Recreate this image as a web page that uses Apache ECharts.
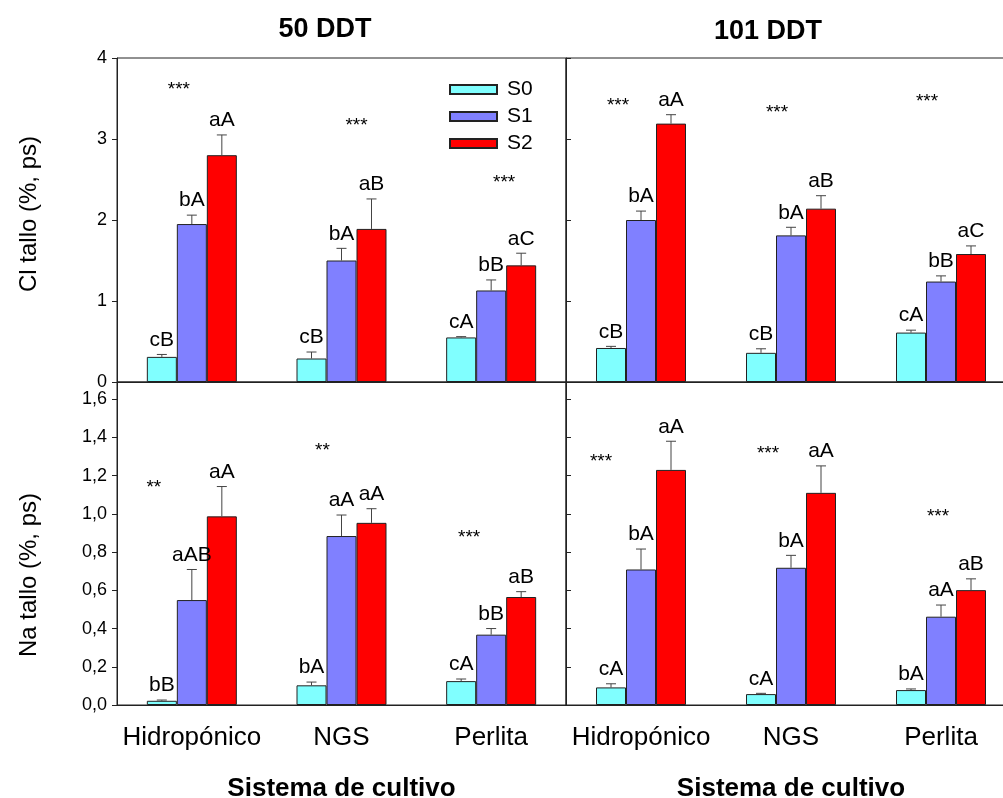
<!DOCTYPE html>
<html>
<head>
<meta charset="utf-8">
<script src="https://cdn.jsdelivr.net/npm/echarts/dist/echarts.min.js"></script>
<style>
html,body{margin:0;padding:0;background:#fff;}
#chart{width:1003px;height:798px;}
</style>
</head>
<body>
<div id="chart"></div>
<script>
// ---------- DATA ----------
const categories = ['Hidropónico', 'NGS', 'Perlita'];
const seriesNames = ['S0', 'S1', 'S2'];
const panelTitles = ['50 DDT', '101 DDT'];
const yTitleCl = 'Cl tallo (%, ps)';
const yTitleNa = 'Na tallo (%, ps)';
const xTitle = 'Sistema de cultivo';

// Cl, 50 DDT
const cl50_S0 = [0.31, 0.29, 0.55];
const cl50_S1 = [1.95, 1.50, 1.13];
const cl50_S2 = [2.80, 1.89, 1.44];
const cl50_S0_err = [0.03, 0.08, 0.01];
const cl50_S1_err = [0.11, 0.15, 0.13];
const cl50_S2_err = [0.25, 0.37, 0.15];
const cl50_S0_lbl = ['cB', 'cB', 'cA'];
const cl50_S1_lbl = ['bA', 'bA', 'bB'];
const cl50_S2_lbl = ['aA', 'aB', 'aC'];
const cl50_stars = ['***', '***', '***'];
const cl50_starY = [3.66, 3.22, 2.51];

// Cl, 101 DDT
const cl101_S0 = [0.42, 0.36, 0.61];
const cl101_S1 = [2.00, 1.81, 1.24];
const cl101_S2 = [3.19, 2.14, 1.58];
const cl101_S0_err = [0.02, 0.05, 0.03];
const cl101_S1_err = [0.11, 0.10, 0.07];
const cl101_S2_err = [0.11, 0.16, 0.10];
const cl101_S0_lbl = ['cB', 'cB', 'cA'];
const cl101_S1_lbl = ['bA', 'bA', 'bB'];
const cl101_S2_lbl = ['aA', 'aB', 'aC'];
const cl101_stars = ['***', '***', '***'];
const cl101_starY = [3.47, 3.38, 3.51];

// Na, 50 DDT
const na50_S0 = [0.022, 0.103, 0.125];
const na50_S1 = [0.549, 0.884, 0.368];
const na50_S2 = [0.987, 0.953, 0.565];
const na50_S0_err = [0.004, 0.017, 0.011];
const na50_S1_err = [0.160, 0.110, 0.032];
const na50_S2_err = [0.156, 0.074, 0.028];
const na50_S0_lbl = ['bB', 'bA', 'cA'];
const na50_S1_lbl = ['aAB', 'aA', 'bB'];
const na50_S2_lbl = ['aA', 'aA', 'aB'];
const na50_stars = ['**', '**', '***'];
const na50_starY = [1.16, 1.354, 0.90];

// Na, 101 DDT
const na101_S0 = [0.092, 0.057, 0.078];
const na101_S1 = [0.709, 0.718, 0.462];
const na101_S2 = [1.230, 1.110, 0.601];
const na101_S0_err = [0.019, 0.004, 0.006];
const na101_S1_err = [0.107, 0.065, 0.061];
const na101_S2_err = [0.150, 0.141, 0.059];
const na101_S0_lbl = ['cA', 'cA', 'bA'];
const na101_S1_lbl = ['bA', 'bA', 'aA'];
const na101_S2_lbl = ['aA', 'aA', 'aB'];
const na101_stars = ['***', '***', '***'];
const na101_starY = [1.297, 1.339, 1.009];

// ---------- STYLE / LAYOUT ----------
const FONT = '"Liberation Sans", Arial, Helvetica, sans-serif';
const COLORS = ['#80FFFF', '#8080FF', '#FF0000'];
const BAR_W = 30;
const LINE = '#222';
const ERR = '#444';
// star horizontal offsets (px) relative to group center, per panel
const starDx = [
  [-13, 15, 13],
  [-23, -14, -14],
  [-38, -19, -22],
  [-40, -23, -3]
];

const panels = [
  { means: [cl50_S0, cl50_S1, cl50_S2], errs: [cl50_S0_err, cl50_S1_err, cl50_S2_err], lbls: [cl50_S0_lbl, cl50_S1_lbl, cl50_S2_lbl], stars: cl50_stars, starY: cl50_starY },
  { means: [cl101_S0, cl101_S1, cl101_S2], errs: [cl101_S0_err, cl101_S1_err, cl101_S2_err], lbls: [cl101_S0_lbl, cl101_S1_lbl, cl101_S2_lbl], stars: cl101_stars, starY: cl101_starY },
  { means: [na50_S0, na50_S1, na50_S2], errs: [na50_S0_err, na50_S1_err, na50_S2_err], lbls: [na50_S0_lbl, na50_S1_lbl, na50_S2_lbl], stars: na50_stars, starY: na50_starY },
  { means: [na101_S0, na101_S1, na101_S2], errs: [na101_S0_err, na101_S1_err, na101_S2_err], lbls: [na101_S0_lbl, na101_S1_lbl, na101_S2_lbl], stars: na101_stars, starY: na101_starY }
];

const grids = [
  { left: 117, top: 58, width: 449, height: 324 },
  { left: 566, top: 58, width: 450, height: 324 },
  { left: 117, top: 382, width: 449, height: 323 },
  { left: 566, top: 382, width: 450, height: 323 }
].map(g => Object.assign(g, { show: true, borderColor: LINE, borderWidth: 1, backgroundColor: 'transparent', containLabel: false, outerBoundsMode: 'none' }));

const xAxes = grids.map((g, gi) => {
  const bottom = gi >= 2;
  return {
    type: 'category', gridIndex: gi, data: categories,
    axisTick: { show: false },
    axisLine: { show: true, lineStyle: { color: LINE, width: 1 } },
    axisLabel: { show: bottom, interval: 0, margin: 20, color: '#000', fontSize: 26, fontFamily: FONT },
    splitLine: { show: false },
    name: bottom ? xTitle : '',
    nameLocation: 'middle', nameGap: 71,
    nameTextStyle: { color: '#000', fontSize: 26, fontWeight: 'bold', fontFamily: FONT }
  };
});

const yAxes = grids.map((g, gi) => {
  const left = gi % 2 === 0;
  const isCl = gi < 2;
  return {
    type: 'value', gridIndex: gi, min: 0, max: isCl ? 4 : 1.69, interval: isCl ? 1 : 0.2,
    splitLine: { show: false },
    axisLine: { show: true, lineStyle: { color: LINE, width: 1 } },
    axisTick: { show: true, inside: !left, length: 5, lineStyle: { color: LINE } },
    axisLabel: {
      show: left, margin: 10, color: '#000', fontSize: 18, fontFamily: FONT,
      formatter: v => isCl ? String(v) : (v > 1.65 ? '' : v.toFixed(1).replace('.', ','))
    },
    name: ''
  };
});

const series = [];
panels.forEach((p, gi) => {
  for (let k = 0; k < 3; k++) {
    series.push({
      type: 'bar', name: seriesNames[k], xAxisIndex: gi, yAxisIndex: gi,
      data: p.means[k], barWidth: BAR_W, barGap: '0%',
      itemStyle: { color: COLORS[k], borderColor: LINE, borderWidth: 1 },
      emphasis: { disabled: true }, z: 2
    });
  }
  for (let k = 0; k < 3; k++) {
    const lbls = p.lbls[k];
    series.push({
      type: 'custom', xAxisIndex: gi, yAxisIndex: gi, z: 5, silent: true,
      data: p.means[k].map((m, i) => [i, m, m + p.errs[k][i]]),
      renderItem: (params, api) => {
        const i = api.value(0);
        const base = api.coord([i, api.value(1)]);
        const top = api.coord([i, api.value(2)]);
        const x = base[0] + (k - 1) * BAR_W;
        return {
          type: 'group', children: [
            { type: 'line', shape: { x1: x, y1: base[1], x2: x, y2: top[1] }, style: { stroke: ERR, lineWidth: 1 } },
            { type: 'line', shape: { x1: x - 5, y1: top[1], x2: x + 5, y2: top[1] }, style: { stroke: ERR, lineWidth: 1 } },
            { type: 'text', x: x, y: top[1] - 4, style: { text: lbls[params.dataIndex], fill: '#000', fontSize: 21, fontFamily: FONT, align: 'center', verticalAlign: 'bottom', textAlign: 'center', textVerticalAlign: 'bottom' } }
          ]
        };
      }
    });
  }
  series.push({
    type: 'custom', xAxisIndex: gi, yAxisIndex: gi, z: 5, silent: true,
    data: p.starY.map((y, i) => [i, y]),
    renderItem: (params, api) => {
      const c = api.coord([api.value(0), api.value(1)]);
      return { type: 'text', x: c[0] + starDx[gi][params.dataIndex], y: c[1] - 5,
        style: { text: p.stars[params.dataIndex], fill: '#000', fontSize: 19, fontFamily: FONT, align: 'center', verticalAlign: 'top', textAlign: 'center', textVerticalAlign: 'top' } };
    }
  });
});

const titleStyle = (t) => ({ text: t, fill: '#000', font: 'bold 27px ' + FONT, align: 'center', verticalAlign: 'middle', textAlign: 'center', textVerticalAlign: 'middle' });
const yTitleStyle = (t) => ({ text: t, fill: '#000', font: '24px ' + FONT, align: 'center', verticalAlign: 'middle', textAlign: 'center', textVerticalAlign: 'middle' });

const option = {
  animation: false,
  backgroundColor: '#fff',
  grid: grids,
  xAxis: xAxes,
  yAxis: yAxes,
  legend: {
    show: true, orient: 'vertical', left: 449, top: 79, padding: 0,
    data: seriesNames, icon: 'rect', itemWidth: 47, itemHeight: 9, itemGap: 6,
    textStyle: { color: '#000', fontSize: 21, fontFamily: FONT, lineHeight: 21, padding: [0, 0, 0, 5] },
    selectedMode: false
  },
  graphic: [
    { type: 'text', x: 325, y: 30, style: titleStyle(panelTitles[0]) },
    { type: 'text', x: 768, y: 32, style: titleStyle(panelTitles[1]) },
    { type: 'text', x: 29, y: 214, rotation: Math.PI / 2, style: yTitleStyle(yTitleCl) },
    { type: 'text', x: 29, y: 575, rotation: Math.PI / 2, style: yTitleStyle(yTitleNa) }
  ],
  series: series
};

const chart = echarts.init(document.getElementById('chart'), null, { renderer: 'canvas' });
chart.setOption(option);
</script>
</body>
</html>
